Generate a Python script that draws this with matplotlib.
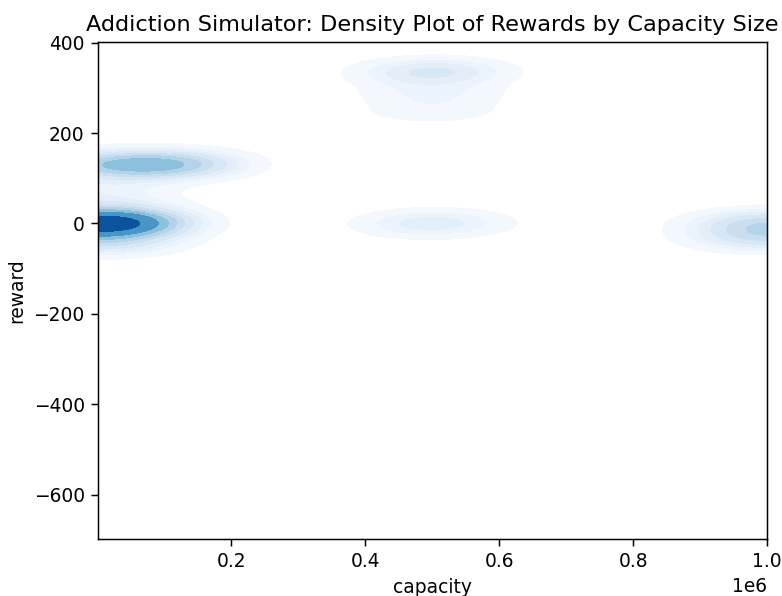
import matplotlib

matplotlib.use("Agg")
import matplotlib.pyplot as plt
import numpy as np
import seaborn as sns

# (capacity, reward) sample points with how many runs landed on each
capacity = [1e4, 1e4, 1e4, 1e4, 1e4, 1e5, 5e5, 5e5, 5e5, 5e5, 1e6, 1e6]
reward = [-40, 0, 40, 80, 130, 130, 0, 335, 290, 250, 0, -30]
count = [6, 30, 3, 2, 7, 11, 4, 5, 2, 1.5, 7, 6]

DPI = 134
fig, ax = plt.subplots(figsize=(782 / DPI, 596 / DPI), dpi=DPI)
fig.subplots_adjust(left=0.125, right=0.981, top=0.930, bottom=0.0956)

sns.kdeplot(x=np.array(capacity), y=np.array(reward), weights=np.array(count),
            fill=True, cmap="Blues", bw_adjust=0.23, ax=ax)

ax.set_xlim(1e3, 1e6)
ax.set_ylim(-698, 402)
ax.set_xlabel("capacity")
ax.set_ylabel("reward")
ax.set_title("Addiction Simulator: Density Plot of Rewards by Capacity Size")

fig.savefig("out.png", dpi=DPI)
